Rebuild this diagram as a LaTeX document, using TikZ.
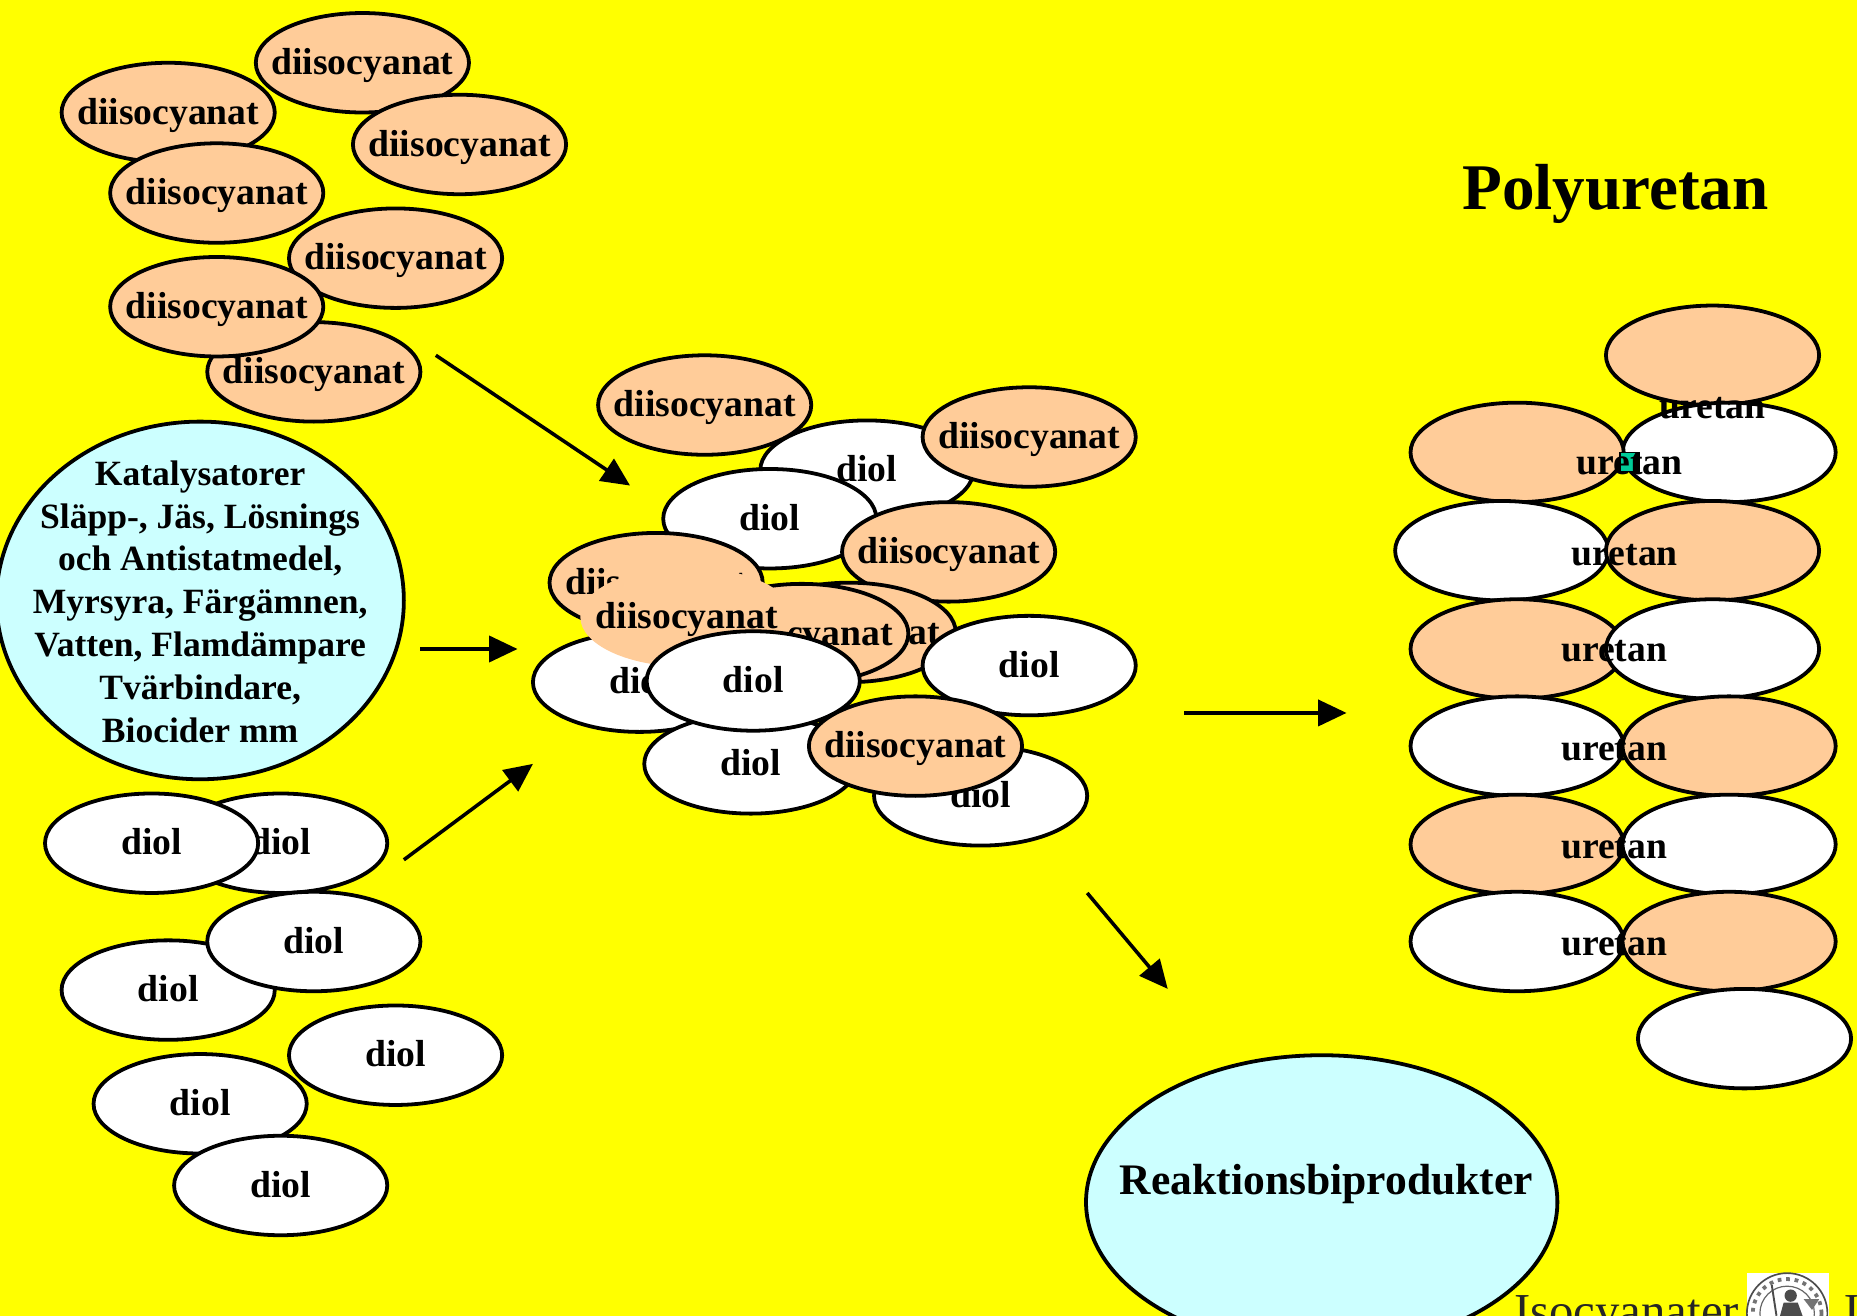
\documentclass[tikz,border=0pt]{standalone}
\usepackage{fontspec}
\setmainfont{Liberation Serif}
\usepackage{tikz}
\usetikzlibrary{shapes.geometric}
\usetikzlibrary{arrows.meta}
\definecolor{bgyellow}{RGB}{255,255,0}
\definecolor{peach}{RGB}{255,204,153}
\definecolor{paleblue}{RGB}{204,255,255}
\definecolor{speckgreen}{RGB}{0,204,153}
\tikzset{
    oval/.style={shape=ellipse, draw=black, line width=1.6pt, inner sep=0pt, minimum width=90pt, minimum height=42pt, font=\fontsize{15.9}{18}\selectfont\bfseries, text height=9.8pt, text depth=0pt},
    diisoval/.style={oval, fill=peach},
    diolval/.style={oval, fill=white},
    blobval/.style={oval, fill=peach, draw=none},
    bigval/.style={shape=ellipse, draw=black, line width=1.6pt, inner sep=0pt, fill=paleblue},
    lablval/.style={inner sep=0pt, font=\fontsize{15.9}{18}\selectfont\bfseries},
    flowarrow/.style={line width=1.5pt, -{Triangle[length=12pt,width=11pt]}}
}
\newcommand{\diisnode}[3]{\node[diisoval] (#1) at ( #2 , #3 ) {\makebox[0pt]{diisocyanat}};}
\newcommand{\diolnode}[3]{\node[diolval] (#1) at ( #2 , #3 ) {diol};}
\newcommand{\pairA}[5]{\node[diisoval] (#1) at ( #2 , #3 ) {}; \node[diolval] (#1w) at ( #4 , #5 ) {};}
\newcommand{\pairB}[5]{\node[diolval] (#1w) at ( #2 , #3 ) {}; \node[diisoval] (#1) at ( #4 , #5 ) {};}
\newcommand{\flow}[5]{\coordinate (#1s) at ( #2 , #3 ); \coordinate (#1e) at ( #4 , #5 ); \draw[flowarrow] (#1s) -- (#1e);}
\begin{document}
\begin{tikzpicture}[x=0.5pt, y=-0.5pt]
        \useasboundingbox (0,0) rectangle (1568,1111);
        \fill[bgyellow] (0,0) rectangle (1568,1111);
        \diisnode{ta}{306}{53}
        \diisnode{tb}{142}{95}
        \diisnode{tc}{388}{122}
        \diisnode{td}{183}{163}
        \diisnode{te}{334}{218}
        \diisnode{tf}{265}{314}
        \diisnode{tg}{183}{259}
        \node[bigval, minimum width=172pt, minimum height=151pt] (cat) at (169,507) {};
        \node[lablval, align=center, font=\fontsize{15}{18.1}\selectfont\bfseries] (catlabel) at (169,508) {Katalysatorer\\Släpp-, Jäs, Lösnings\\och Antistatmedel,\\Myrsyra, Färgämnen,\\Vatten, Flamdämpare\\Tvärbindare,\\Biocider mm};
        \diolnode{la}{237}{712}
        \diolnode{lb}{128}{712}
        \diolnode{lc}{142}{836}
        \diolnode{ld}{265}{795}
        \diolnode{le}{334}{891}
        \diolnode{lf}{169}{932}
        \diolnode{lg}{237}{1001}
        \diolnode{ma}{732}{397}
        \diisnode{mb}{595}{342}
        \diisnode{mc}{869}{369}
        \diolnode{md}{650}{438}
        \diisnode{me}{801}{466}
        \diolnode{mf}{540}{576}
        \diisnode{mg}{717}{534}
        \diisnode{mh}{677}{535}
        \diisnode{mi}{554}{492}
        \node[blobval] (mj) at (580,521) {\makebox[0pt]{diisocyanat}};
        \diolnode{mk}{869}{562}
        \diolnode{ml}{634}{645}
        \diolnode{mm}{636}{575}
        \diolnode{mn}{828}{672}
        \diisnode{mo}{773}{630}
        \pairA{ra}{1446}{300}{1460}{382}
        \node[diisoval] (rb) at (1281,382) {};
        \node[diolval] (rcw) at (1268,465) {};
        \node[diisoval] (rc) at (1446,465) {};
        \pairA{rd}{1281}{548}{1446}{548}
        \pairB{re}{1281}{630}{1460}{630}
        \pairA{rf}{1281}{713}{1460}{713}
        \pairB{rg}{1281}{795}{1460}{795}
        \node[diolval] (rh) at (1473,877) {};
        \node[fill=speckgreen, draw=black, line width=0.6pt, minimum size=8pt, inner sep=0pt] (speck) at (1376,390) {};
        \node[lablval] (ua) at (1446,345) {uretan};
        \node[lablval] (ub) at (1376,392) {uretan};
        \node[lablval] (uc) at (1372,469) {uretan};
        \node[lablval] (ud) at (1363,550) {uretan};
        \node[lablval] (ue) at (1363,633) {uretan};
        \node[lablval] (uf) at (1363,716) {uretan};
        \node[lablval] (ug) at (1363,798) {uretan};
        \node[bigval, minimum width=199pt, minimum height=124pt] (rest) at (1116,1015) {};
        \node[lablval, font=\fontsize{18.4}{20}\selectfont\bfseries] (restlabel) at (1120,1000) {Reaktionsbiprodukter};
        \node[inner sep=0pt, font=\fontsize{27.5}{30}\selectfont\bfseries] (title) at (1364,164) {Polyuretan};
        \node[inner sep=0pt, anchor=base west, font=\fontsize{20.6}{22}\selectfont, text=black!85] (foot) at (1278,1121) {Isocyanater};
        \node[inner sep=0pt, anchor=base west, font=\fontsize{20.6}{22}\selectfont, text=black!85] (footb) at (1557,1121) {L};
        \fill[white] (1475,1075) rectangle (1544,1111);
        \draw[black!70, line width=0.7pt] (1509,1109) circle (17pt);
        \draw[black!55, line width=1.6pt, dotted] (1509,1109) circle (14.5pt);
        \draw[black!60, line width=0.5pt] (1509,1109) circle (11.5pt);
        \draw[black!70, line width=0.8pt] (1496,1085) -- (1500,1111);
        \fill[black!70] (1512,1094) circle (2.6pt);
        \fill[black!70] (1503,1111) -- (1506,1100) -- (1518,1100) -- (1522,1111) -- cycle;
        \fill[black!55] (1523,1097) -- (1536,1097) -- (1530,1106) -- cycle;
        \flow{aa}{368}{300}{532}{410}
        \flow{ab}{355}{548}{437}{548}
        \flow{ac}{341}{726}{450}{645}
        \flow{ad}{1000}{602}{1137}{602}
        \flow{ae}{918}{754}{986}{835}
    \end{tikzpicture}
\end{document}
